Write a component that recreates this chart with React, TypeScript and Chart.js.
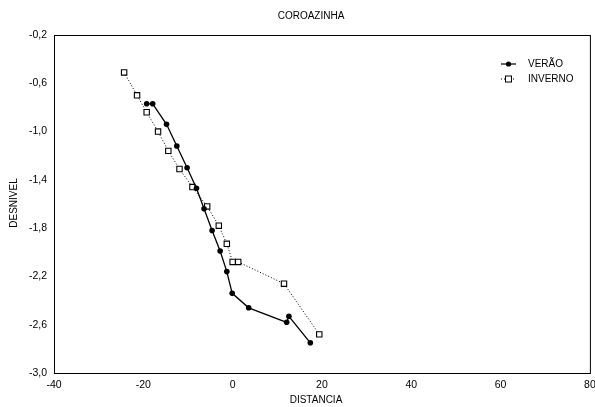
import React, { useEffect, useRef } from "react";
import { Chart, registerables } from "chart.js";

Chart.register(...registerables);

const TITLE = "COROAZINHA";
const X_LABEL = "DISTANCIA";
const Y_LABEL = "DESNIVEL";

const X_TICKS = [-40, -20, 0, 20, 40, 60, 80];
const Y_TICKS = [-3.0, -2.6, -2.2, -1.8, -1.4, -1.0, -0.6, -0.2];

// VERÃO profile (distance, level)
const VERAO_X = [-19.25, -17.9, -14.8, -12.5, -10.2, -8.1, -6.4, -4.6, -2.8, -1.3, -0.1, 3.6, 12.1, 12.6, 17.4];
const VERAO_Y = [-0.77, -0.77, -0.94, -1.12, -1.3, -1.47, -1.64, -1.82, -1.99, -2.16, -2.34, -2.46, -2.58, -2.53, -2.75];

// INVERNO profile (distance, level)
const INVERNO_X = [-24.3, -21.4, -19.25, -16.7, -14.4, -11.9, -9.0, -5.7, -3.1, -1.3, 0.0, 1.25, 11.5, 19.4];
const INVERNO_Y = [-0.51, -0.7, -0.84, -1.0, -1.16, -1.31, -1.46, -1.62, -1.78, -1.93, -2.08, -2.08, -2.26, -2.68];

const FONT = "'Liberation Sans', Arial, sans-serif";

const toPoints = (xs: number[], ys: number[]) => xs.map((x, i) => ({ x, y: ys[i] }));

const decorations = {
  id: "decorations",
  afterDraw(chart: any) {
    const { ctx, chartArea } = chart;
    const { left, right, top, bottom } = chartArea;
    ctx.save();

    // frame
    ctx.strokeStyle = "#000";
    ctx.lineWidth = 1;
    ctx.strokeRect(left + 0.5, top + 0.5, right - left, bottom - top);

    ctx.fillStyle = "#000";
    ctx.textAlign = "center";
    ctx.textBaseline = "middle";

    // title
    ctx.font = `10px ${FONT}`;
    ctx.fillText(TITLE, 311, 16);

    // axis titles
    ctx.font = `10px ${FONT}`;
    ctx.fillText(X_LABEL, 316, 400);
    ctx.save();
    ctx.translate(14, 203);
    ctx.rotate(-Math.PI / 2);
    ctx.fillText(Y_LABEL, 0, 0);
    ctx.restore();

    // legend
    const lx0 = 501;
    const lx1 = 516;
    const mx = 508.5;
    const y1 = 64;
    const y2 = 79;

    ctx.lineWidth = 1.2;
    ctx.setLineDash([]);
    ctx.beginPath();
    ctx.moveTo(lx0, y1);
    ctx.lineTo(lx1, y1);
    ctx.stroke();
    ctx.beginPath();
    ctx.arc(mx, y1, 2.6, 0, Math.PI * 2);
    ctx.fill();

    ctx.lineWidth = 1;
    ctx.setLineDash([1, 2]);
    ctx.beginPath();
    ctx.moveTo(lx0, y2);
    ctx.lineTo(lx1, y2);
    ctx.stroke();
    ctx.setLineDash([]);
    ctx.fillStyle = "#fff";
    ctx.fillRect(mx - 3, y2 - 3, 6, 6);
    ctx.strokeRect(mx - 3, y2 - 3, 6, 6);

    ctx.fillStyle = "#000";
    ctx.textAlign = "left";
    ctx.font = `10px ${FONT}`;
    ctx.fillText("VERÃO", 528, y1 + 0.5);
    ctx.fillText("INVERNO", 528, y2 + 0.5);

    ctx.restore();
  },
};

export default function App() {
  const canvasRef = useRef<HTMLCanvasElement | null>(null);

  useEffect(() => {
    const canvas = canvasRef.current;
    if (!canvas) return;

    const chart = new Chart(canvas, {
      type: "scatter",
      data: {
        datasets: [
          {
            label: "VERÃO",
            data: toPoints(VERAO_X, VERAO_Y),
            showLine: true,
            borderColor: "#000",
            borderWidth: 1.3,
            backgroundColor: "#000",
            pointStyle: "circle",
            pointRadius: 2.8,
            pointBorderWidth: 0,
            pointBackgroundColor: "#000",
            tension: 0,
          },
          {
            label: "INVERNO",
            data: toPoints(INVERNO_X, INVERNO_Y),
            showLine: true,
            borderColor: "#000",
            borderWidth: 1,
            borderDash: [1, 2],
            backgroundColor: "#fff",
            pointStyle: "rect",
            pointRadius: 3.8,
            pointBorderWidth: 1.1,
            pointBorderColor: "#000",
            pointBackgroundColor: "#fff",
            tension: 0,
          },
        ],
      },
      options: {
        animation: false,
        responsive: false,
        devicePixelRatio: 1,
        layout: { padding: { left: 0, right: 5, top: 35, bottom: 0 } },
        plugins: {
          legend: { display: false },
          title: { display: false },
          tooltip: { enabled: false },
        },
        scales: {
          x: {
            type: "linear",
            min: -40,
            max: 80,
            grid: { display: false, drawTicks: false },
            border: { display: false },
            afterBuildTicks: (scale: any) => {
              scale.ticks = X_TICKS.map((v) => ({ value: v }));
            },
            afterFit: (scale: any) => {
              scale.height = 34;
              scale.paddingLeft = 0;
              scale.paddingRight = 0;
            },
            ticks: {
              color: "#000",
              padding: 6,
              maxRotation: 0,
              autoSkip: false,
              font: { family: FONT, size: 10.5 },
              callback: (v: any) => String(v),
            },
          },
          y: {
            type: "linear",
            min: -3.0,
            max: -0.2,
            grid: { display: false, drawTicks: false },
            border: { display: false },
            afterBuildTicks: (scale: any) => {
              scale.ticks = Y_TICKS.map((v) => ({ value: v }));
            },
            afterFit: (scale: any) => {
              scale.width = 54;
              scale.paddingTop = 0;
              scale.paddingBottom = 0;
            },
            ticks: {
              color: "#000",
              padding: 7,
              autoSkip: false,
              font: { family: FONT, size: 10.5 },
              callback: (v: any) => Number(v).toFixed(1).replace(".", ","),
            },
          },
        },
      },
      plugins: [decorations],
    });

    return () => chart.destroy();
  }, []);

  return (
    <div style={{ position: "fixed", left: 0, top: 0, width: 595, height: 407, background: "#fff" }}>
      <canvas ref={canvasRef} width={595} height={407} style={{ display: "block", width: 595, height: 407 }} />
    </div>
  );
}
